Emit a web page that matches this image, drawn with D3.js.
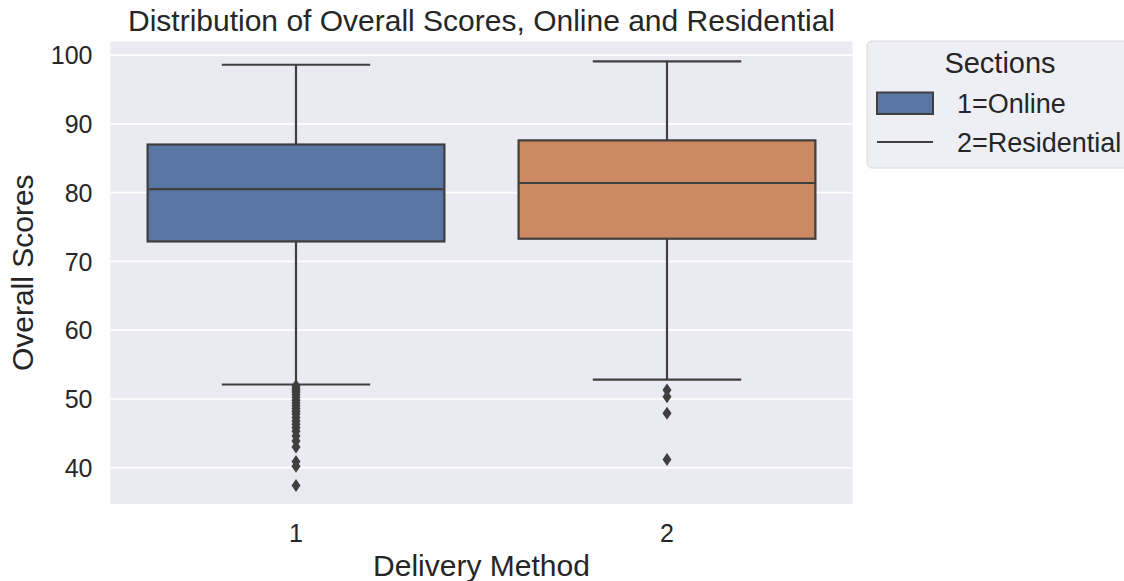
<!DOCTYPE html>
<html>
<head>
<meta charset="utf-8">
<script src="https://cdn.jsdelivr.net/npm/d3@7"></script>
<style>
  body { margin: 0; background: #fff; }
  svg text { font-family: "Liberation Sans", Arial, sans-serif; fill: #262626; }
</style>
</head>
<body>
<div class="main"></div>
<script>
const WIDTH = 1124;
const HEIGHT = 581;

// data
const categories = ["1", "2"];
const boxColors = ["#5975a4", "#cc8a63"];
const whiskerLow = [52.1, 52.8];
const q1 = [72.9, 73.3];
const median = [80.5, 81.4];
const q3 = [87.0, 87.6];
const whiskerHigh = [98.6, 99.1];
const outliers1 = [51.9, 51.6, 51.3, 51.0, 50.6, 50.2, 49.8, 49.4, 49.0, 48.6, 48.2,
                   47.8, 47.3, 46.8, 46.3, 45.8, 45.3, 44.6, 43.9, 43.0, 40.9, 40.2, 37.4];
const outliers2 = [51.3, 50.3, 47.9, 41.2];
const yTicks = [40, 50, 60, 70, 80, 90, 100];
const legendLabels = ["1=Online", "2=Residential"];

const margin = {left: 110.5, right: 1124 - 852.5, top: 41.5, bottom: 581 - 504};

var svg = d3.select(".main")
    .append("svg")
        .attr("width", WIDTH)
        .attr("height", HEIGHT);

var x = d3.scaleBand()
    .domain(categories)
    .range([margin.left, WIDTH - margin.right]);

var y = d3.scaleLinear()
    .domain([34.72, 101.98])
    .range([HEIGHT - margin.bottom, margin.top]);

// plot background
svg.append("rect")
    .attr("x", margin.left)
    .attr("y", margin.top)
    .attr("width", WIDTH - margin.left - margin.right)
    .attr("height", HEIGHT - margin.top - margin.bottom)
    .attr("fill", "#eaeaf2");

// grid lines
svg.append("g")
    .selectAll("line")
    .data(yTicks)
    .join("line")
        .attr("x1", margin.left)
        .attr("x2", WIDTH - margin.right)
        .attr("y1", d => y(d))
        .attr("y2", d => y(d))
        .attr("stroke", "#fff")
        .attr("stroke-width", 1.6);

// y axis
var yAxis = svg.append("g")
    .attr("transform", `translate(${margin.left},0)`)
    .call(d3.axisLeft(y).tickValues(yTicks).tickSize(0).tickPadding(18));
yAxis.select(".domain").remove();
yAxis.selectAll("text").attr("font-size", 25).attr("font-family", null).attr("fill", "#262626")
    .attr("dy", "0.35em");

// x axis
var xAxis = svg.append("g")
    .attr("transform", `translate(0,${HEIGHT - margin.bottom})`)
    .call(d3.axisBottom(x).tickSize(0).tickPadding(0));
xAxis.select(".domain").remove();
xAxis.selectAll("text").attr("font-size", 25).attr("font-family", null).attr("fill", "#262626")
    .attr("y", 38).attr("dy", null);

const boxes = categories.map((c, i) => ({
    cat: c, color: boxColors[i], lo: whiskerLow[i], q1: q1[i], med: median[i], q3: q3[i], hi: whiskerHigh[i],
    fliers: i === 0 ? outliers1 : outliers2
}));

const LINE = "#3f3f3f";
const boxW = x.bandwidth() * 0.8;

var g = svg.append("g")
    .selectAll("g")
    .data(boxes)
    .join("g");

// whiskers
g.append("line")
    .attr("x1", d => x(d.cat) + x.bandwidth() / 2)
    .attr("x2", d => x(d.cat) + x.bandwidth() / 2)
    .attr("y1", d => y(d.hi))
    .attr("y2", d => y(d.lo))
    .attr("stroke", LINE).attr("stroke-width", 2.2);

g.selectAll(".cap")
    .data(d => [d.lo, d.hi].map(v => ({cat: d.cat, v: v})))
    .join("line")
        .attr("class", "cap")
        .attr("x1", d => x(d.cat) + x.bandwidth() / 2 - boxW / 4)
        .attr("x2", d => x(d.cat) + x.bandwidth() / 2 + boxW / 4)
        .attr("y1", d => y(d.v))
        .attr("y2", d => y(d.v))
        .attr("stroke", LINE).attr("stroke-width", 2.2);

// box
g.append("rect")
    .attr("x", d => x(d.cat) + (x.bandwidth() - boxW) / 2)
    .attr("width", boxW)
    .attr("y", d => y(d.q3))
    .attr("height", d => y(d.q1) - y(d.q3))
    .attr("fill", d => d.color)
    .attr("stroke", LINE).attr("stroke-width", 2.2);

// median
g.append("line")
    .attr("x1", d => x(d.cat) + (x.bandwidth() - boxW) / 2)
    .attr("x2", d => x(d.cat) + (x.bandwidth() + boxW) / 2)
    .attr("y1", d => y(d.med))
    .attr("y2", d => y(d.med))
    .attr("stroke", LINE).attr("stroke-width", 2.2);

// outliers (thin diamonds)
g.selectAll(".flier")
    .data(d => d.fliers.map(v => ({cat: d.cat, v: v})))
    .join("path")
        .attr("class", "flier")
        .attr("d", "M0,-6.5L4.5,0L0,6.5L-4.5,0Z")
        .attr("transform", d => `translate(${x(d.cat) + x.bandwidth() / 2},${y(d.v)})`)
        .attr("fill", LINE);

// title and axis labels
svg.append("text")
    .attr("x", (margin.left + WIDTH - margin.right) / 2)
    .attr("y", 31)
    .attr("text-anchor", "middle")
    .attr("font-size", 30)
    .text("Distribution of Overall Scores, Online and Residential");

svg.append("text")
    .attr("x", (margin.left + WIDTH - margin.right) / 2)
    .attr("y", 576)
    .attr("text-anchor", "middle")
    .attr("font-size", 30)
    .text("Delivery Method");

svg.append("text")
    .attr("transform", `translate(33,${(margin.top + HEIGHT - margin.bottom) / 2}) rotate(-90)`)
    .attr("text-anchor", "middle")
    .attr("font-size", 30)
    .text("Overall Scores");

// legend
var legend = svg.append("g").attr("transform", "translate(867,41)");
legend.append("rect")
    .attr("width", 270).attr("height", 127)
    .attr("rx", 5)
    .attr("fill", "#eeeef5")
    .attr("stroke", "#d6d6dc").attr("stroke-width", 1);
legend.append("text")
    .attr("x", 133).attr("y", 32)
    .attr("text-anchor", "middle")
    .attr("font-size", 29)
    .text("Sections");
legend.append("rect")
    .attr("x", 10).attr("y", 51.5).attr("width", 56).attr("height", 21.5)
    .attr("fill", boxColors[0])
    .attr("stroke", LINE).attr("stroke-width", 2);
legend.append("line")
    .attr("x1", 10).attr("x2", 66).attr("y1", 101).attr("y2", 101)
    .attr("stroke", LINE).attr("stroke-width", 2);
legend.selectAll(".lab")
    .data(legendLabels)
    .join("text")
        .attr("class", "lab")
        .attr("x", 90)
        .attr("y", (d, i) => 72 + i * 38.5)
        .attr("font-size", 27)
        .text(d => d);
</script>
</body>
</html>
